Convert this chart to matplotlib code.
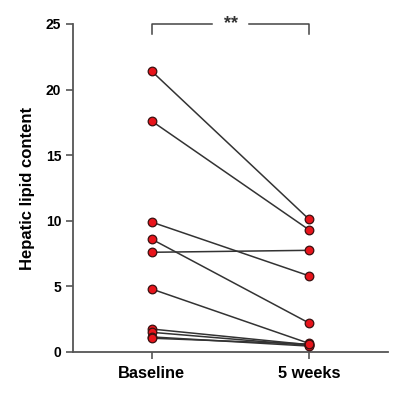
import numpy as np
import matplotlib.pyplot as plt

plt.rcParams['font.family'] = ['Liberation Sans', 'DejaVu Sans']
plt.rcParams['font.weight'] = 'bold'

groups = ['Baseline', '5 weeks']
baseline = [21.4, 17.6, 9.9, 8.6, 7.6, 4.8, 1.75, 1.5, 1.15, 1.05]
week5 = [10.1, 9.3, 5.8, 2.2, 7.75, 0.65, 0.55, 0.5, 0.45, 0.6]
y_ticks = [0, 5, 10, 15, 20, 25]

fig = plt.figure(figsize=(4, 3.94), dpi=100)
ax = fig.add_axes([0.1825, 0.1066, 0.7875, 0.8325])

x = np.arange(len(groups))
for b, w in zip(baseline, week5):
    ax.plot(x, [b, w], color='#333333', lw=1.1, zorder=2)
    ax.plot(x, [b, w], 'o', color='#e8141b', markeredgecolor='#3a1010',
            markeredgewidth=0.9, markersize=6.2, zorder=3, clip_on=False)

ax.set_xlim(-0.5, 1.5)
ax.set_ylim(0, 25)
ax.set_yticks(y_ticks)
ax.set_xticks(x)
ax.set_xticklabels(groups, fontsize=11.8, fontweight='bold')
ax.tick_params(axis='y', labelsize=10, length=5, width=1.2, color='#555555')
ax.tick_params(axis='x', length=5, width=1.2, color='#555555', pad=5)
ax.set_ylabel('Hepatic lipid content', fontsize=12, fontweight='bold', labelpad=8)

for s in ['top', 'right']:
    ax.spines[s].set_visible(False)
for s in ['left', 'bottom']:
    ax.spines[s].set_color('#555555')
    ax.spines[s].set_linewidth(1.3)

# significance bracket
yb = 25.0
ax.plot([0, 0, 0.38], [yb - 0.75, yb, yb], color='#444444', lw=1.1, clip_on=False)
ax.plot([0.62, 1, 1], [yb, yb, yb - 0.75], color='#444444', lw=1.1, clip_on=False)
ax.text(0.5, yb, '**', ha='center', va='center', fontsize=13, fontweight='bold',
        color='#333333')

fig.savefig('out.png', dpi=100)
